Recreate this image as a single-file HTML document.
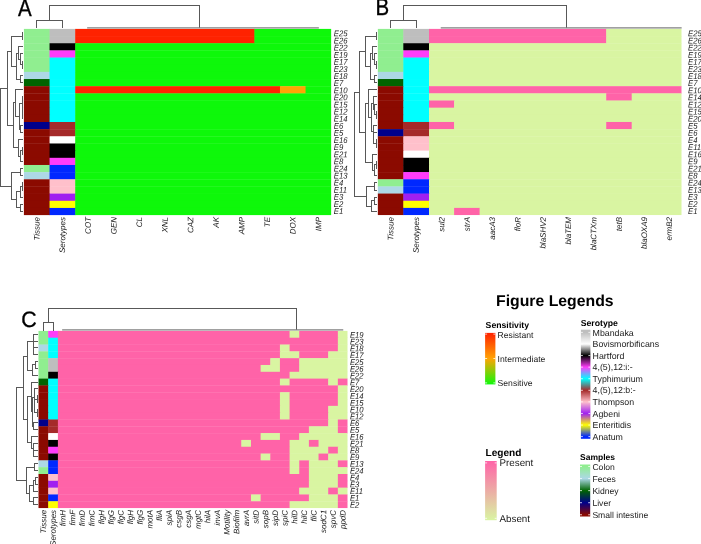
<!DOCTYPE html>
<html><head><meta charset="utf-8"><title>Figure</title>
<style>
html,body{margin:0;padding:0;background:#fff;}
body{width:701px;height:544px;overflow:hidden;position:relative;font-family:"Liberation Sans",sans-serif;}
text{font-family:"Liberation Sans",sans-serif;text-rendering:geometricPrecision;}
</style></head><body>
<svg width="701" height="544" viewBox="0 0 701 544" style="position:absolute;left:0;top:0;font-family:'Liberation Sans',sans-serif;will-change:transform" shape-rendering="geometricPrecision">
<rect x="0" y="0" width="701" height="544" fill="#fff"/>
<rect x="23.90" y="28.90" width="26.15" height="7.51" fill="#90EE90"/>
<rect x="49.55" y="28.90" width="26.15" height="7.51" fill="#BEBEBE"/>
<rect x="75.20" y="28.90" width="179.67" height="7.51" fill="#FF2200"/>
<rect x="254.37" y="28.90" width="76.78" height="7.51" fill="#0EF80A"/>
<rect x="23.90" y="36.06" width="26.15" height="7.51" fill="#90EE90"/>
<rect x="49.55" y="36.06" width="26.15" height="7.51" fill="#BEBEBE"/>
<rect x="75.20" y="36.06" width="179.67" height="7.51" fill="#FF2200"/>
<rect x="254.37" y="36.06" width="76.78" height="7.51" fill="#0EF80A"/>
<rect x="23.90" y="43.22" width="26.15" height="7.51" fill="#90EE90"/>
<rect x="49.55" y="43.22" width="26.15" height="7.51" fill="#000000"/>
<rect x="75.20" y="43.22" width="255.95" height="7.51" fill="#0EF80A"/>
<rect x="23.90" y="50.38" width="26.15" height="7.51" fill="#90EE90"/>
<rect x="49.55" y="50.38" width="26.15" height="7.51" fill="#FF3CFA"/>
<rect x="75.20" y="50.38" width="255.95" height="7.51" fill="#0EF80A"/>
<rect x="23.90" y="57.55" width="26.15" height="7.51" fill="#90EE90"/>
<rect x="49.55" y="57.55" width="26.15" height="7.51" fill="#00FFFF"/>
<rect x="75.20" y="57.55" width="255.95" height="7.51" fill="#0EF80A"/>
<rect x="23.90" y="64.71" width="26.15" height="7.51" fill="#90EE90"/>
<rect x="49.55" y="64.71" width="26.15" height="7.51" fill="#00FFFF"/>
<rect x="75.20" y="64.71" width="255.95" height="7.51" fill="#0EF80A"/>
<rect x="23.90" y="71.87" width="26.15" height="7.51" fill="#ADD8E6"/>
<rect x="49.55" y="71.87" width="26.15" height="7.51" fill="#00FFFF"/>
<rect x="75.20" y="71.87" width="255.95" height="7.51" fill="#0EF80A"/>
<rect x="23.90" y="79.03" width="26.15" height="7.51" fill="#006400"/>
<rect x="49.55" y="79.03" width="26.15" height="7.51" fill="#00FFFF"/>
<rect x="75.20" y="79.03" width="255.95" height="7.51" fill="#0EF80A"/>
<rect x="23.90" y="86.19" width="26.15" height="7.51" fill="#8B0A00"/>
<rect x="49.55" y="86.19" width="26.15" height="7.51" fill="#00FFFF"/>
<rect x="75.20" y="86.19" width="205.26" height="7.51" fill="#FF2200"/>
<rect x="279.96" y="86.19" width="26.10" height="7.51" fill="#FFA404"/>
<rect x="305.56" y="86.19" width="25.59" height="7.51" fill="#0EF80A"/>
<rect x="23.90" y="93.35" width="26.15" height="7.51" fill="#8B0A00"/>
<rect x="49.55" y="93.35" width="26.15" height="7.51" fill="#00FFFF"/>
<rect x="75.20" y="93.35" width="255.95" height="7.51" fill="#0EF80A"/>
<rect x="23.90" y="100.52" width="26.15" height="7.51" fill="#8B0A00"/>
<rect x="49.55" y="100.52" width="26.15" height="7.51" fill="#00FFFF"/>
<rect x="75.20" y="100.52" width="255.95" height="7.51" fill="#0EF80A"/>
<rect x="23.90" y="107.68" width="26.15" height="7.51" fill="#8B0A00"/>
<rect x="49.55" y="107.68" width="26.15" height="7.51" fill="#00FFFF"/>
<rect x="75.20" y="107.68" width="255.95" height="7.51" fill="#0EF80A"/>
<rect x="23.90" y="114.84" width="26.15" height="7.51" fill="#8B0A00"/>
<rect x="49.55" y="114.84" width="26.15" height="7.51" fill="#00FFFF"/>
<rect x="75.20" y="114.84" width="255.95" height="7.51" fill="#0EF80A"/>
<rect x="23.90" y="122.00" width="26.15" height="7.51" fill="#00008B"/>
<rect x="49.55" y="122.00" width="26.15" height="7.51" fill="#A52A2A"/>
<rect x="75.20" y="122.00" width="255.95" height="7.51" fill="#0EF80A"/>
<rect x="23.90" y="129.16" width="26.15" height="7.51" fill="#8B0A00"/>
<rect x="49.55" y="129.16" width="26.15" height="7.51" fill="#A52A2A"/>
<rect x="75.20" y="129.16" width="255.95" height="7.51" fill="#0EF80A"/>
<rect x="23.90" y="136.32" width="26.15" height="7.51" fill="#8B0A00"/>
<rect x="49.55" y="136.32" width="26.15" height="7.51" fill="#FFFFFF"/>
<rect x="75.20" y="136.32" width="255.95" height="7.51" fill="#0EF80A"/>
<rect x="23.90" y="143.48" width="26.15" height="7.51" fill="#8B0A00"/>
<rect x="49.55" y="143.48" width="26.15" height="7.51" fill="#000000"/>
<rect x="75.20" y="143.48" width="255.95" height="7.51" fill="#0EF80A"/>
<rect x="23.90" y="150.65" width="26.15" height="7.51" fill="#8B0A00"/>
<rect x="49.55" y="150.65" width="26.15" height="7.51" fill="#000000"/>
<rect x="75.20" y="150.65" width="255.95" height="7.51" fill="#0EF80A"/>
<rect x="23.90" y="157.81" width="26.15" height="7.51" fill="#8B0A00"/>
<rect x="49.55" y="157.81" width="26.15" height="7.51" fill="#FF3CFA"/>
<rect x="75.20" y="157.81" width="255.95" height="7.51" fill="#0EF80A"/>
<rect x="23.90" y="164.97" width="26.15" height="7.51" fill="#90EE90"/>
<rect x="49.55" y="164.97" width="26.15" height="7.51" fill="#0028FF"/>
<rect x="75.20" y="164.97" width="255.95" height="7.51" fill="#0EF80A"/>
<rect x="23.90" y="172.13" width="26.15" height="7.51" fill="#ADD8E6"/>
<rect x="49.55" y="172.13" width="26.15" height="7.51" fill="#0028FF"/>
<rect x="75.20" y="172.13" width="255.95" height="7.51" fill="#0EF80A"/>
<rect x="23.90" y="179.29" width="26.15" height="7.51" fill="#8B0A00"/>
<rect x="49.55" y="179.29" width="26.15" height="7.51" fill="#FFC0CB"/>
<rect x="75.20" y="179.29" width="255.95" height="7.51" fill="#0EF80A"/>
<rect x="23.90" y="186.45" width="26.15" height="7.51" fill="#8B0A00"/>
<rect x="49.55" y="186.45" width="26.15" height="7.51" fill="#FFC0CB"/>
<rect x="75.20" y="186.45" width="255.95" height="7.51" fill="#0EF80A"/>
<rect x="23.90" y="193.62" width="26.15" height="7.51" fill="#8B0A00"/>
<rect x="49.55" y="193.62" width="26.15" height="7.51" fill="#A020F0"/>
<rect x="75.20" y="193.62" width="255.95" height="7.51" fill="#0EF80A"/>
<rect x="23.90" y="200.78" width="26.15" height="7.51" fill="#8B0A00"/>
<rect x="49.55" y="200.78" width="26.15" height="7.51" fill="#FFFF00"/>
<rect x="75.20" y="200.78" width="255.95" height="7.51" fill="#0EF80A"/>
<rect x="23.90" y="207.94" width="26.15" height="7.16" fill="#8B0A00"/>
<rect x="49.55" y="207.94" width="26.15" height="7.16" fill="#0028FF"/>
<rect x="75.20" y="207.94" width="255.95" height="7.16" fill="#0EF80A"/>
<text x="0" y="0" font-size="8.4" style="font-style:italic" fill="#1a1a1a" transform="translate(333.80 36.30) rotate(0.3) scale(0.92 1)">E25</text>
<text x="0" y="0" font-size="8.4" style="font-style:italic" fill="#1a1a1a" transform="translate(333.80 43.41) rotate(0.3) scale(0.92 1)">E26</text>
<text x="0" y="0" font-size="8.4" style="font-style:italic" fill="#1a1a1a" transform="translate(333.80 50.52) rotate(0.3) scale(0.92 1)">E22</text>
<text x="0" y="0" font-size="8.4" style="font-style:italic" fill="#1a1a1a" transform="translate(333.80 57.63) rotate(0.3) scale(0.92 1)">E19</text>
<text x="0" y="0" font-size="8.4" style="font-style:italic" fill="#1a1a1a" transform="translate(333.80 64.74) rotate(0.3) scale(0.92 1)">E17</text>
<text x="0" y="0" font-size="8.4" style="font-style:italic" fill="#1a1a1a" transform="translate(333.80 71.85) rotate(0.3) scale(0.92 1)">E23</text>
<text x="0" y="0" font-size="8.4" style="font-style:italic" fill="#1a1a1a" transform="translate(333.80 78.96) rotate(0.3) scale(0.92 1)">E18</text>
<text x="0" y="0" font-size="8.4" style="font-style:italic" fill="#1a1a1a" transform="translate(333.80 86.07) rotate(0.3) scale(0.92 1)">E7</text>
<text x="0" y="0" font-size="8.4" style="font-style:italic" fill="#1a1a1a" transform="translate(333.80 93.18) rotate(0.3) scale(0.92 1)">E10</text>
<text x="0" y="0" font-size="8.4" style="font-style:italic" fill="#1a1a1a" transform="translate(333.80 100.29) rotate(0.3) scale(0.92 1)">E20</text>
<text x="0" y="0" font-size="8.4" style="font-style:italic" fill="#1a1a1a" transform="translate(333.80 107.40) rotate(0.3) scale(0.92 1)">E15</text>
<text x="0" y="0" font-size="8.4" style="font-style:italic" fill="#1a1a1a" transform="translate(333.80 114.51) rotate(0.3) scale(0.92 1)">E12</text>
<text x="0" y="0" font-size="8.4" style="font-style:italic" fill="#1a1a1a" transform="translate(333.80 121.62) rotate(0.3) scale(0.92 1)">E14</text>
<text x="0" y="0" font-size="8.4" style="font-style:italic" fill="#1a1a1a" transform="translate(333.80 128.73) rotate(0.3) scale(0.92 1)">E6</text>
<text x="0" y="0" font-size="8.4" style="font-style:italic" fill="#1a1a1a" transform="translate(333.80 135.84) rotate(0.3) scale(0.92 1)">E5</text>
<text x="0" y="0" font-size="8.4" style="font-style:italic" fill="#1a1a1a" transform="translate(333.80 142.95) rotate(0.3) scale(0.92 1)">E16</text>
<text x="0" y="0" font-size="8.4" style="font-style:italic" fill="#1a1a1a" transform="translate(333.80 150.06) rotate(0.3) scale(0.92 1)">E9</text>
<text x="0" y="0" font-size="8.4" style="font-style:italic" fill="#1a1a1a" transform="translate(333.80 157.17) rotate(0.3) scale(0.92 1)">E21</text>
<text x="0" y="0" font-size="8.4" style="font-style:italic" fill="#1a1a1a" transform="translate(333.80 164.28) rotate(0.3) scale(0.92 1)">E8</text>
<text x="0" y="0" font-size="8.4" style="font-style:italic" fill="#1a1a1a" transform="translate(333.80 171.39) rotate(0.3) scale(0.92 1)">E24</text>
<text x="0" y="0" font-size="8.4" style="font-style:italic" fill="#1a1a1a" transform="translate(333.80 178.50) rotate(0.3) scale(0.92 1)">E13</text>
<text x="0" y="0" font-size="8.4" style="font-style:italic" fill="#1a1a1a" transform="translate(333.80 185.61) rotate(0.3) scale(0.92 1)">E4</text>
<text x="0" y="0" font-size="8.4" style="font-style:italic" fill="#1a1a1a" transform="translate(333.80 192.72) rotate(0.3) scale(0.92 1)">E11</text>
<text x="0" y="0" font-size="8.4" style="font-style:italic" fill="#1a1a1a" transform="translate(333.80 199.83) rotate(0.3) scale(0.92 1)">E3</text>
<text x="0" y="0" font-size="8.4" style="font-style:italic" fill="#1a1a1a" transform="translate(333.80 206.94) rotate(0.3) scale(0.92 1)">E2</text>
<text x="0" y="0" font-size="8.4" style="font-style:italic" fill="#1a1a1a" transform="translate(333.80 214.05) rotate(0.3) scale(0.92 1)">E1</text>
<text x="39.60" y="217.00" font-size="8.0" text-anchor="end" style="font-style:italic;" fill="#1a1a1a" transform="rotate(-89.7 39.60 217.00)">Tissue</text>
<text x="65.25" y="217.00" font-size="8.0" text-anchor="end" style="font-style:italic;" fill="#1a1a1a" transform="rotate(-89.7 65.25 217.00)">Serotypes</text>
<text x="90.88" y="217.00" font-size="8.0" text-anchor="end" style="font-style:italic;" fill="#1a1a1a" transform="rotate(-89.7 90.88 217.00)">COT</text>
<text x="116.47" y="217.00" font-size="8.0" text-anchor="end" style="font-style:italic;" fill="#1a1a1a" transform="rotate(-89.7 116.47 217.00)">GEN</text>
<text x="142.07" y="217.00" font-size="8.0" text-anchor="end" style="font-style:italic;" fill="#1a1a1a" transform="rotate(-89.7 142.07 217.00)">CL</text>
<text x="167.66" y="217.00" font-size="8.0" text-anchor="end" style="font-style:italic;" fill="#1a1a1a" transform="rotate(-89.7 167.66 217.00)">XNL</text>
<text x="193.26" y="217.00" font-size="8.0" text-anchor="end" style="font-style:italic;" fill="#1a1a1a" transform="rotate(-89.7 193.26 217.00)">CAZ</text>
<text x="218.85" y="217.00" font-size="8.0" text-anchor="end" style="font-style:italic;" fill="#1a1a1a" transform="rotate(-89.7 218.85 217.00)">AK</text>
<text x="244.45" y="217.00" font-size="8.0" text-anchor="end" style="font-style:italic;" fill="#1a1a1a" transform="rotate(-89.7 244.45 217.00)">AMP</text>
<text x="270.04" y="217.00" font-size="8.0" text-anchor="end" style="font-style:italic;" fill="#1a1a1a" transform="rotate(-89.7 270.04 217.00)">TE</text>
<text x="295.64" y="217.00" font-size="8.0" text-anchor="end" style="font-style:italic;" fill="#1a1a1a" transform="rotate(-89.7 295.64 217.00)">DOX</text>
<text x="321.23" y="217.00" font-size="8.0" text-anchor="end" style="font-style:italic;" fill="#1a1a1a" transform="rotate(-89.7 321.23 217.00)">IMP</text>
<rect x="377.85" y="28.90" width="25.95" height="7.51" fill="#90EE90"/>
<rect x="403.30" y="28.90" width="26.20" height="7.51" fill="#BEBEBE"/>
<rect x="429.00" y="28.90" width="177.70" height="7.51" fill="#FF63A8"/>
<rect x="606.20" y="28.90" width="75.30" height="7.51" fill="#D9F5A2"/>
<rect x="377.85" y="36.06" width="25.95" height="7.51" fill="#90EE90"/>
<rect x="403.30" y="36.06" width="26.20" height="7.51" fill="#BEBEBE"/>
<rect x="429.00" y="36.06" width="177.70" height="7.51" fill="#FF63A8"/>
<rect x="606.20" y="36.06" width="75.30" height="7.51" fill="#D9F5A2"/>
<rect x="377.85" y="43.22" width="25.95" height="7.51" fill="#90EE90"/>
<rect x="403.30" y="43.22" width="26.20" height="7.51" fill="#000000"/>
<rect x="429.00" y="43.22" width="252.50" height="7.51" fill="#D9F5A2"/>
<rect x="377.85" y="50.38" width="25.95" height="7.51" fill="#90EE90"/>
<rect x="403.30" y="50.38" width="26.20" height="7.51" fill="#FF3CFA"/>
<rect x="429.00" y="50.38" width="252.50" height="7.51" fill="#D9F5A2"/>
<rect x="377.85" y="57.54" width="25.95" height="7.51" fill="#90EE90"/>
<rect x="403.30" y="57.54" width="26.20" height="7.51" fill="#00FFFF"/>
<rect x="429.00" y="57.54" width="252.50" height="7.51" fill="#D9F5A2"/>
<rect x="377.85" y="64.70" width="25.95" height="7.51" fill="#90EE90"/>
<rect x="403.30" y="64.70" width="26.20" height="7.51" fill="#00FFFF"/>
<rect x="429.00" y="64.70" width="252.50" height="7.51" fill="#D9F5A2"/>
<rect x="377.85" y="71.86" width="25.95" height="7.51" fill="#ADD8E6"/>
<rect x="403.30" y="71.86" width="26.20" height="7.51" fill="#00FFFF"/>
<rect x="429.00" y="71.86" width="252.50" height="7.51" fill="#D9F5A2"/>
<rect x="377.85" y="79.02" width="25.95" height="7.51" fill="#006400"/>
<rect x="403.30" y="79.02" width="26.20" height="7.51" fill="#00FFFF"/>
<rect x="429.00" y="79.02" width="252.50" height="7.51" fill="#D9F5A2"/>
<rect x="377.85" y="86.18" width="25.95" height="7.51" fill="#8B0A00"/>
<rect x="403.30" y="86.18" width="26.20" height="7.51" fill="#00FFFF"/>
<rect x="429.00" y="86.18" width="252.50" height="7.51" fill="#FF63A8"/>
<rect x="377.85" y="93.34" width="25.95" height="7.51" fill="#8B0A00"/>
<rect x="403.30" y="93.34" width="26.20" height="7.51" fill="#00FFFF"/>
<rect x="429.00" y="93.34" width="177.70" height="7.51" fill="#D9F5A2"/>
<rect x="606.20" y="93.34" width="26.00" height="7.51" fill="#FF63A8"/>
<rect x="631.70" y="93.34" width="49.80" height="7.51" fill="#D9F5A2"/>
<rect x="377.85" y="100.50" width="25.95" height="7.51" fill="#8B0A00"/>
<rect x="403.30" y="100.50" width="26.20" height="7.51" fill="#00FFFF"/>
<rect x="429.00" y="100.50" width="25.60" height="7.51" fill="#FF63A8"/>
<rect x="454.10" y="100.50" width="227.40" height="7.51" fill="#D9F5A2"/>
<rect x="377.85" y="107.66" width="25.95" height="7.51" fill="#8B0A00"/>
<rect x="403.30" y="107.66" width="26.20" height="7.51" fill="#00FFFF"/>
<rect x="429.00" y="107.66" width="252.50" height="7.51" fill="#D9F5A2"/>
<rect x="377.85" y="114.82" width="25.95" height="7.51" fill="#8B0A00"/>
<rect x="403.30" y="114.82" width="26.20" height="7.51" fill="#00FFFF"/>
<rect x="429.00" y="114.82" width="252.50" height="7.51" fill="#D9F5A2"/>
<rect x="377.85" y="121.97" width="25.95" height="7.51" fill="#8B0A00"/>
<rect x="403.30" y="121.97" width="26.20" height="7.51" fill="#A52A2A"/>
<rect x="429.00" y="121.97" width="25.60" height="7.51" fill="#FF63A8"/>
<rect x="454.10" y="121.97" width="152.60" height="7.51" fill="#D9F5A2"/>
<rect x="606.20" y="121.97" width="26.00" height="7.51" fill="#FF63A8"/>
<rect x="631.70" y="121.97" width="49.80" height="7.51" fill="#D9F5A2"/>
<rect x="377.85" y="129.13" width="25.95" height="7.51" fill="#00008B"/>
<rect x="403.30" y="129.13" width="26.20" height="7.51" fill="#A52A2A"/>
<rect x="429.00" y="129.13" width="252.50" height="7.51" fill="#D9F5A2"/>
<rect x="377.85" y="136.29" width="25.95" height="7.51" fill="#8B0A00"/>
<rect x="403.30" y="136.29" width="26.20" height="7.51" fill="#FFC0CB"/>
<rect x="429.00" y="136.29" width="252.50" height="7.51" fill="#D9F5A2"/>
<rect x="377.85" y="143.45" width="25.95" height="7.51" fill="#8B0A00"/>
<rect x="403.30" y="143.45" width="26.20" height="7.51" fill="#FFC0CB"/>
<rect x="429.00" y="143.45" width="252.50" height="7.51" fill="#D9F5A2"/>
<rect x="377.85" y="150.61" width="25.95" height="7.51" fill="#8B0A00"/>
<rect x="403.30" y="150.61" width="26.20" height="7.51" fill="#FFFFFF"/>
<rect x="429.00" y="150.61" width="252.50" height="7.51" fill="#D9F5A2"/>
<rect x="377.85" y="157.77" width="25.95" height="7.51" fill="#8B0A00"/>
<rect x="403.30" y="157.77" width="26.20" height="7.51" fill="#000000"/>
<rect x="429.00" y="157.77" width="252.50" height="7.51" fill="#D9F5A2"/>
<rect x="377.85" y="164.93" width="25.95" height="7.51" fill="#8B0A00"/>
<rect x="403.30" y="164.93" width="26.20" height="7.51" fill="#000000"/>
<rect x="429.00" y="164.93" width="252.50" height="7.51" fill="#D9F5A2"/>
<rect x="377.85" y="172.09" width="25.95" height="7.51" fill="#8B0A00"/>
<rect x="403.30" y="172.09" width="26.20" height="7.51" fill="#FF3CFA"/>
<rect x="429.00" y="172.09" width="252.50" height="7.51" fill="#D9F5A2"/>
<rect x="377.85" y="179.25" width="25.95" height="7.51" fill="#90EE90"/>
<rect x="403.30" y="179.25" width="26.20" height="7.51" fill="#0028FF"/>
<rect x="429.00" y="179.25" width="252.50" height="7.51" fill="#D9F5A2"/>
<rect x="377.85" y="186.41" width="25.95" height="7.51" fill="#ADD8E6"/>
<rect x="403.30" y="186.41" width="26.20" height="7.51" fill="#0028FF"/>
<rect x="429.00" y="186.41" width="252.50" height="7.51" fill="#D9F5A2"/>
<rect x="377.85" y="193.57" width="25.95" height="7.51" fill="#8B0A00"/>
<rect x="403.30" y="193.57" width="26.20" height="7.51" fill="#A020F0"/>
<rect x="429.00" y="193.57" width="252.50" height="7.51" fill="#D9F5A2"/>
<rect x="377.85" y="200.73" width="25.95" height="7.51" fill="#8B0A00"/>
<rect x="403.30" y="200.73" width="26.20" height="7.51" fill="#FFFF00"/>
<rect x="429.00" y="200.73" width="252.50" height="7.51" fill="#D9F5A2"/>
<rect x="377.85" y="207.89" width="25.95" height="7.16" fill="#8B0A00"/>
<rect x="403.30" y="207.89" width="26.20" height="7.16" fill="#0028FF"/>
<rect x="429.00" y="207.89" width="25.60" height="7.16" fill="#D9F5A2"/>
<rect x="454.10" y="207.89" width="26.00" height="7.16" fill="#FF63A8"/>
<rect x="479.60" y="207.89" width="201.90" height="7.16" fill="#D9F5A2"/>
<text x="0" y="0" font-size="8.4" style="font-style:italic" fill="#1a1a1a" transform="translate(688.00 36.30) rotate(0.3) scale(0.92 1)">E25</text>
<text x="0" y="0" font-size="8.4" style="font-style:italic" fill="#1a1a1a" transform="translate(688.00 43.41) rotate(0.3) scale(0.92 1)">E26</text>
<text x="0" y="0" font-size="8.4" style="font-style:italic" fill="#1a1a1a" transform="translate(688.00 50.52) rotate(0.3) scale(0.92 1)">E22</text>
<text x="0" y="0" font-size="8.4" style="font-style:italic" fill="#1a1a1a" transform="translate(688.00 57.63) rotate(0.3) scale(0.92 1)">E19</text>
<text x="0" y="0" font-size="8.4" style="font-style:italic" fill="#1a1a1a" transform="translate(688.00 64.74) rotate(0.3) scale(0.92 1)">E17</text>
<text x="0" y="0" font-size="8.4" style="font-style:italic" fill="#1a1a1a" transform="translate(688.00 71.85) rotate(0.3) scale(0.92 1)">E23</text>
<text x="0" y="0" font-size="8.4" style="font-style:italic" fill="#1a1a1a" transform="translate(688.00 78.96) rotate(0.3) scale(0.92 1)">E18</text>
<text x="0" y="0" font-size="8.4" style="font-style:italic" fill="#1a1a1a" transform="translate(688.00 86.07) rotate(0.3) scale(0.92 1)">E7</text>
<text x="0" y="0" font-size="8.4" style="font-style:italic" fill="#1a1a1a" transform="translate(688.00 93.18) rotate(0.3) scale(0.92 1)">E10</text>
<text x="0" y="0" font-size="8.4" style="font-style:italic" fill="#1a1a1a" transform="translate(688.00 100.29) rotate(0.3) scale(0.92 1)">E14</text>
<text x="0" y="0" font-size="8.4" style="font-style:italic" fill="#1a1a1a" transform="translate(688.00 107.40) rotate(0.3) scale(0.92 1)">E12</text>
<text x="0" y="0" font-size="8.4" style="font-style:italic" fill="#1a1a1a" transform="translate(688.00 114.51) rotate(0.3) scale(0.92 1)">E15</text>
<text x="0" y="0" font-size="8.4" style="font-style:italic" fill="#1a1a1a" transform="translate(688.00 121.62) rotate(0.3) scale(0.92 1)">E20</text>
<text x="0" y="0" font-size="8.4" style="font-style:italic" fill="#1a1a1a" transform="translate(688.00 128.73) rotate(0.3) scale(0.92 1)">E5</text>
<text x="0" y="0" font-size="8.4" style="font-style:italic" fill="#1a1a1a" transform="translate(688.00 135.84) rotate(0.3) scale(0.92 1)">E6</text>
<text x="0" y="0" font-size="8.4" style="font-style:italic" fill="#1a1a1a" transform="translate(688.00 142.95) rotate(0.3) scale(0.92 1)">E4</text>
<text x="0" y="0" font-size="8.4" style="font-style:italic" fill="#1a1a1a" transform="translate(688.00 150.06) rotate(0.3) scale(0.92 1)">E11</text>
<text x="0" y="0" font-size="8.4" style="font-style:italic" fill="#1a1a1a" transform="translate(688.00 157.17) rotate(0.3) scale(0.92 1)">E16</text>
<text x="0" y="0" font-size="8.4" style="font-style:italic" fill="#1a1a1a" transform="translate(688.00 164.28) rotate(0.3) scale(0.92 1)">E9</text>
<text x="0" y="0" font-size="8.4" style="font-style:italic" fill="#1a1a1a" transform="translate(688.00 171.39) rotate(0.3) scale(0.92 1)">E21</text>
<text x="0" y="0" font-size="8.4" style="font-style:italic" fill="#1a1a1a" transform="translate(688.00 178.50) rotate(0.3) scale(0.92 1)">E8</text>
<text x="0" y="0" font-size="8.4" style="font-style:italic" fill="#1a1a1a" transform="translate(688.00 185.61) rotate(0.3) scale(0.92 1)">E24</text>
<text x="0" y="0" font-size="8.4" style="font-style:italic" fill="#1a1a1a" transform="translate(688.00 192.72) rotate(0.3) scale(0.92 1)">E13</text>
<text x="0" y="0" font-size="8.4" style="font-style:italic" fill="#1a1a1a" transform="translate(688.00 199.83) rotate(0.3) scale(0.92 1)">E3</text>
<text x="0" y="0" font-size="8.4" style="font-style:italic" fill="#1a1a1a" transform="translate(688.00 206.94) rotate(0.3) scale(0.92 1)">E2</text>
<text x="0" y="0" font-size="8.4" style="font-style:italic" fill="#1a1a1a" transform="translate(688.00 214.05) rotate(0.3) scale(0.92 1)">E1</text>
<text x="393.46" y="217.00" font-size="8.0" text-anchor="end" style="font-style:italic;" fill="#1a1a1a" transform="rotate(-89.7 393.46 217.00)">Tissue</text>
<text x="419.03" y="217.00" font-size="8.0" text-anchor="end" style="font-style:italic;" fill="#1a1a1a" transform="rotate(-89.7 419.03 217.00)">Serotypes</text>
<text x="444.43" y="217.00" font-size="8.0" text-anchor="end" style="font-style:italic;" fill="#1a1a1a" transform="rotate(-89.7 444.43 217.00)">sul2</text>
<text x="469.73" y="217.00" font-size="8.0" text-anchor="end" style="font-style:italic;" fill="#1a1a1a" transform="rotate(-89.7 469.73 217.00)">strA</text>
<text x="495.13" y="217.00" font-size="8.0" text-anchor="end" style="font-style:italic;" fill="#1a1a1a" transform="rotate(-89.7 495.13 217.00)">aacA3</text>
<text x="520.43" y="217.00" font-size="8.0" text-anchor="end" style="font-style:italic;" fill="#1a1a1a" transform="rotate(-89.7 520.43 217.00)">floR</text>
<text x="545.78" y="217.00" font-size="8.0" text-anchor="end" style="font-style:italic;" fill="#1a1a1a" transform="rotate(-89.7 545.78 217.00)">blaSHV2</text>
<text x="571.13" y="217.00" font-size="8.0" text-anchor="end" style="font-style:italic;" fill="#1a1a1a" transform="rotate(-89.7 571.13 217.00)">blaTEM</text>
<text x="596.43" y="217.00" font-size="8.0" text-anchor="end" style="font-style:italic;" fill="#1a1a1a" transform="rotate(-89.7 596.43 217.00)">blaCTXm</text>
<text x="621.83" y="217.00" font-size="8.0" text-anchor="end" style="font-style:italic;" fill="#1a1a1a" transform="rotate(-89.7 621.83 217.00)">tetB</text>
<text x="647.03" y="217.00" font-size="8.0" text-anchor="end" style="font-style:italic;" fill="#1a1a1a" transform="rotate(-89.7 647.03 217.00)">blaOXA9</text>
<text x="671.93" y="217.00" font-size="8.0" text-anchor="end" style="font-style:italic;" fill="#1a1a1a" transform="rotate(-89.7 671.93 217.00)">ermB2</text>
<rect x="38.50" y="330.90" width="10.20" height="7.16" fill="#90EE90"/>
<rect x="48.20" y="330.90" width="10.20" height="7.16" fill="#FF3CFA"/>
<rect x="57.90" y="330.90" width="232.18" height="7.16" fill="#FF63A8"/>
<rect x="289.58" y="330.90" width="10.15" height="7.16" fill="#D9F5A2"/>
<rect x="299.23" y="330.90" width="39.11" height="7.16" fill="#FF63A8"/>
<rect x="337.85" y="330.90" width="9.65" height="7.16" fill="#D9F5A2"/>
<rect x="38.50" y="337.71" width="10.20" height="7.16" fill="#90EE90"/>
<rect x="48.20" y="337.71" width="10.20" height="7.16" fill="#00FFFF"/>
<rect x="57.90" y="337.71" width="280.45" height="7.16" fill="#FF63A8"/>
<rect x="337.85" y="337.71" width="9.65" height="7.16" fill="#D9F5A2"/>
<rect x="38.50" y="344.53" width="10.20" height="7.16" fill="#ADD8E6"/>
<rect x="48.20" y="344.53" width="10.20" height="7.16" fill="#00FFFF"/>
<rect x="57.90" y="344.53" width="222.53" height="7.16" fill="#FF63A8"/>
<rect x="279.93" y="344.53" width="10.15" height="7.16" fill="#D9F5A2"/>
<rect x="289.58" y="344.53" width="48.77" height="7.16" fill="#FF63A8"/>
<rect x="337.85" y="344.53" width="9.65" height="7.16" fill="#D9F5A2"/>
<rect x="38.50" y="351.34" width="10.20" height="7.16" fill="#90EE90"/>
<rect x="48.20" y="351.34" width="10.20" height="7.16" fill="#00FFFF"/>
<rect x="57.90" y="351.34" width="222.53" height="7.16" fill="#FF63A8"/>
<rect x="279.93" y="351.34" width="19.81" height="7.16" fill="#D9F5A2"/>
<rect x="299.23" y="351.34" width="29.46" height="7.16" fill="#FF63A8"/>
<rect x="328.19" y="351.34" width="19.31" height="7.16" fill="#D9F5A2"/>
<rect x="38.50" y="358.16" width="10.20" height="7.16" fill="#90EE90"/>
<rect x="48.20" y="358.16" width="10.20" height="7.16" fill="#BEBEBE"/>
<rect x="57.90" y="358.16" width="212.87" height="7.16" fill="#FF63A8"/>
<rect x="270.27" y="358.16" width="10.15" height="7.16" fill="#D9F5A2"/>
<rect x="279.93" y="358.16" width="19.81" height="7.16" fill="#FF63A8"/>
<rect x="299.23" y="358.16" width="48.27" height="7.16" fill="#D9F5A2"/>
<rect x="38.50" y="364.97" width="10.20" height="7.16" fill="#90EE90"/>
<rect x="48.20" y="364.97" width="10.20" height="7.16" fill="#BEBEBE"/>
<rect x="57.90" y="364.97" width="203.22" height="7.16" fill="#FF63A8"/>
<rect x="260.62" y="364.97" width="19.81" height="7.16" fill="#D9F5A2"/>
<rect x="279.93" y="364.97" width="19.81" height="7.16" fill="#FF63A8"/>
<rect x="299.23" y="364.97" width="48.27" height="7.16" fill="#D9F5A2"/>
<rect x="38.50" y="371.79" width="10.20" height="7.16" fill="#90EE90"/>
<rect x="48.20" y="371.79" width="10.20" height="7.16" fill="#000000"/>
<rect x="57.90" y="371.79" width="232.18" height="7.16" fill="#FF63A8"/>
<rect x="289.58" y="371.79" width="57.92" height="7.16" fill="#D9F5A2"/>
<rect x="38.50" y="378.60" width="10.20" height="7.16" fill="#006400"/>
<rect x="48.20" y="378.60" width="10.20" height="7.16" fill="#00FFFF"/>
<rect x="57.90" y="378.60" width="222.53" height="7.16" fill="#FF63A8"/>
<rect x="279.93" y="378.60" width="10.15" height="7.16" fill="#D9F5A2"/>
<rect x="289.58" y="378.60" width="39.11" height="7.16" fill="#FF63A8"/>
<rect x="328.19" y="378.60" width="10.15" height="7.16" fill="#D9F5A2"/>
<rect x="337.85" y="378.60" width="9.65" height="7.16" fill="#FF63A8"/>
<rect x="38.50" y="385.41" width="10.20" height="7.16" fill="#8B0A00"/>
<rect x="48.20" y="385.41" width="10.20" height="7.16" fill="#00FFFF"/>
<rect x="57.90" y="385.41" width="280.45" height="7.16" fill="#FF63A8"/>
<rect x="337.85" y="385.41" width="9.65" height="7.16" fill="#D9F5A2"/>
<rect x="38.50" y="392.23" width="10.20" height="7.16" fill="#8B0A00"/>
<rect x="48.20" y="392.23" width="10.20" height="7.16" fill="#00FFFF"/>
<rect x="57.90" y="392.23" width="222.53" height="7.16" fill="#FF63A8"/>
<rect x="279.93" y="392.23" width="10.15" height="7.16" fill="#D9F5A2"/>
<rect x="289.58" y="392.23" width="48.77" height="7.16" fill="#FF63A8"/>
<rect x="337.85" y="392.23" width="9.65" height="7.16" fill="#D9F5A2"/>
<rect x="38.50" y="399.04" width="10.20" height="7.16" fill="#8B0A00"/>
<rect x="48.20" y="399.04" width="10.20" height="7.16" fill="#00FFFF"/>
<rect x="57.90" y="399.04" width="222.53" height="7.16" fill="#FF63A8"/>
<rect x="279.93" y="399.04" width="10.15" height="7.16" fill="#D9F5A2"/>
<rect x="289.58" y="399.04" width="48.77" height="7.16" fill="#FF63A8"/>
<rect x="337.85" y="399.04" width="9.65" height="7.16" fill="#D9F5A2"/>
<rect x="38.50" y="405.86" width="10.20" height="7.16" fill="#8B0A00"/>
<rect x="48.20" y="405.86" width="10.20" height="7.16" fill="#00FFFF"/>
<rect x="57.90" y="405.86" width="222.53" height="7.16" fill="#FF63A8"/>
<rect x="279.93" y="405.86" width="10.15" height="7.16" fill="#D9F5A2"/>
<rect x="289.58" y="405.86" width="39.11" height="7.16" fill="#FF63A8"/>
<rect x="328.19" y="405.86" width="19.31" height="7.16" fill="#D9F5A2"/>
<rect x="38.50" y="412.67" width="10.20" height="7.16" fill="#8B0A00"/>
<rect x="48.20" y="412.67" width="10.20" height="7.16" fill="#00FFFF"/>
<rect x="57.90" y="412.67" width="222.53" height="7.16" fill="#FF63A8"/>
<rect x="279.93" y="412.67" width="10.15" height="7.16" fill="#D9F5A2"/>
<rect x="289.58" y="412.67" width="39.11" height="7.16" fill="#FF63A8"/>
<rect x="328.19" y="412.67" width="19.31" height="7.16" fill="#D9F5A2"/>
<rect x="38.50" y="419.49" width="10.20" height="7.16" fill="#00008B"/>
<rect x="48.20" y="419.49" width="10.20" height="7.16" fill="#A52A2A"/>
<rect x="57.90" y="419.49" width="270.79" height="7.16" fill="#FF63A8"/>
<rect x="328.19" y="419.49" width="10.15" height="7.16" fill="#D9F5A2"/>
<rect x="337.85" y="419.49" width="9.65" height="7.16" fill="#FF63A8"/>
<rect x="38.50" y="426.30" width="10.20" height="7.16" fill="#8B0A00"/>
<rect x="48.20" y="426.30" width="10.20" height="7.16" fill="#A52A2A"/>
<rect x="57.90" y="426.30" width="251.49" height="7.16" fill="#FF63A8"/>
<rect x="308.89" y="426.30" width="29.46" height="7.16" fill="#D9F5A2"/>
<rect x="337.85" y="426.30" width="9.65" height="7.16" fill="#FF63A8"/>
<rect x="38.50" y="433.11" width="10.20" height="7.16" fill="#8B0A00"/>
<rect x="48.20" y="433.11" width="10.20" height="7.16" fill="#FFFFFF"/>
<rect x="57.90" y="433.11" width="203.22" height="7.16" fill="#FF63A8"/>
<rect x="260.62" y="433.11" width="19.81" height="7.16" fill="#D9F5A2"/>
<rect x="279.93" y="433.11" width="19.81" height="7.16" fill="#FF63A8"/>
<rect x="299.23" y="433.11" width="48.27" height="7.16" fill="#D9F5A2"/>
<rect x="38.50" y="439.93" width="10.20" height="7.16" fill="#8B0A00"/>
<rect x="48.20" y="439.93" width="10.20" height="7.16" fill="#000000"/>
<rect x="57.90" y="439.93" width="183.91" height="7.16" fill="#FF63A8"/>
<rect x="241.31" y="439.93" width="10.15" height="7.16" fill="#D9F5A2"/>
<rect x="250.97" y="439.93" width="39.11" height="7.16" fill="#FF63A8"/>
<rect x="289.58" y="439.93" width="19.81" height="7.16" fill="#D9F5A2"/>
<rect x="308.89" y="439.93" width="10.15" height="7.16" fill="#FF63A8"/>
<rect x="318.54" y="439.93" width="28.96" height="7.16" fill="#D9F5A2"/>
<rect x="38.50" y="446.74" width="10.20" height="7.16" fill="#8B0A00"/>
<rect x="48.20" y="446.74" width="10.20" height="7.16" fill="#FF3CFA"/>
<rect x="57.90" y="446.74" width="232.18" height="7.16" fill="#FF63A8"/>
<rect x="289.58" y="446.74" width="39.11" height="7.16" fill="#D9F5A2"/>
<rect x="328.19" y="446.74" width="10.15" height="7.16" fill="#FF63A8"/>
<rect x="337.85" y="446.74" width="9.65" height="7.16" fill="#D9F5A2"/>
<rect x="38.50" y="453.56" width="10.20" height="7.16" fill="#8B0A00"/>
<rect x="48.20" y="453.56" width="10.20" height="7.16" fill="#000000"/>
<rect x="57.90" y="453.56" width="203.22" height="7.16" fill="#FF63A8"/>
<rect x="260.62" y="453.56" width="10.15" height="7.16" fill="#D9F5A2"/>
<rect x="270.27" y="453.56" width="19.81" height="7.16" fill="#FF63A8"/>
<rect x="289.58" y="453.56" width="29.46" height="7.16" fill="#D9F5A2"/>
<rect x="318.54" y="453.56" width="10.15" height="7.16" fill="#FF63A8"/>
<rect x="328.19" y="453.56" width="19.31" height="7.16" fill="#D9F5A2"/>
<rect x="38.50" y="460.37" width="10.20" height="7.16" fill="#ADD8E6"/>
<rect x="48.20" y="460.37" width="10.20" height="7.16" fill="#0028FF"/>
<rect x="57.90" y="460.37" width="232.18" height="7.16" fill="#FF63A8"/>
<rect x="289.58" y="460.37" width="10.15" height="7.16" fill="#D9F5A2"/>
<rect x="299.23" y="460.37" width="10.15" height="7.16" fill="#FF63A8"/>
<rect x="308.89" y="460.37" width="29.46" height="7.16" fill="#D9F5A2"/>
<rect x="337.85" y="460.37" width="9.65" height="7.16" fill="#FF63A8"/>
<rect x="38.50" y="467.18" width="10.20" height="7.16" fill="#90EE90"/>
<rect x="48.20" y="467.18" width="10.20" height="7.16" fill="#0028FF"/>
<rect x="57.90" y="467.18" width="232.18" height="7.16" fill="#FF63A8"/>
<rect x="289.58" y="467.18" width="10.15" height="7.16" fill="#D9F5A2"/>
<rect x="299.23" y="467.18" width="10.15" height="7.16" fill="#FF63A8"/>
<rect x="308.89" y="467.18" width="38.61" height="7.16" fill="#D9F5A2"/>
<rect x="38.50" y="474.00" width="10.20" height="7.16" fill="#8B0A00"/>
<rect x="48.20" y="474.00" width="10.20" height="7.16" fill="#FFC0CB"/>
<rect x="57.90" y="474.00" width="251.49" height="7.16" fill="#FF63A8"/>
<rect x="308.89" y="474.00" width="29.46" height="7.16" fill="#D9F5A2"/>
<rect x="337.85" y="474.00" width="9.65" height="7.16" fill="#FF63A8"/>
<rect x="38.50" y="480.81" width="10.20" height="7.16" fill="#8B0A00"/>
<rect x="48.20" y="480.81" width="10.20" height="7.16" fill="#A020F0"/>
<rect x="57.90" y="480.81" width="251.49" height="7.16" fill="#FF63A8"/>
<rect x="308.89" y="480.81" width="29.46" height="7.16" fill="#D9F5A2"/>
<rect x="337.85" y="480.81" width="9.65" height="7.16" fill="#FF63A8"/>
<rect x="38.50" y="487.63" width="10.20" height="7.16" fill="#8B0A00"/>
<rect x="48.20" y="487.63" width="10.20" height="7.16" fill="#FFC0CB"/>
<rect x="57.90" y="487.63" width="241.83" height="7.16" fill="#FF63A8"/>
<rect x="299.23" y="487.63" width="29.46" height="7.16" fill="#D9F5A2"/>
<rect x="328.19" y="487.63" width="10.15" height="7.16" fill="#FF63A8"/>
<rect x="337.85" y="487.63" width="9.65" height="7.16" fill="#D9F5A2"/>
<rect x="38.50" y="494.44" width="10.20" height="7.16" fill="#8B0A00"/>
<rect x="48.20" y="494.44" width="10.20" height="7.16" fill="#0028FF"/>
<rect x="57.90" y="494.44" width="193.57" height="7.16" fill="#FF63A8"/>
<rect x="250.97" y="494.44" width="10.15" height="7.16" fill="#D9F5A2"/>
<rect x="260.62" y="494.44" width="48.77" height="7.16" fill="#FF63A8"/>
<rect x="308.89" y="494.44" width="29.46" height="7.16" fill="#D9F5A2"/>
<rect x="337.85" y="494.44" width="9.65" height="7.16" fill="#FF63A8"/>
<rect x="38.50" y="501.26" width="10.20" height="6.81" fill="#8B0A00"/>
<rect x="48.20" y="501.26" width="10.20" height="6.81" fill="#FFFF00"/>
<rect x="57.90" y="501.26" width="232.18" height="6.81" fill="#FF63A8"/>
<rect x="289.58" y="501.26" width="48.77" height="6.81" fill="#D9F5A2"/>
<rect x="337.85" y="501.26" width="9.65" height="6.81" fill="#FF63A8"/>
<text x="0" y="0" font-size="8.3" style="font-style:italic" fill="#1a1a1a" transform="translate(350.00 337.70) rotate(0.3) scale(0.92 1)">E19</text>
<text x="0" y="0" font-size="8.3" style="font-style:italic" fill="#1a1a1a" transform="translate(350.00 344.50) rotate(0.3) scale(0.92 1)">E23</text>
<text x="0" y="0" font-size="8.3" style="font-style:italic" fill="#1a1a1a" transform="translate(350.00 351.29) rotate(0.3) scale(0.92 1)">E18</text>
<text x="0" y="0" font-size="8.3" style="font-style:italic" fill="#1a1a1a" transform="translate(350.00 358.09) rotate(0.3) scale(0.92 1)">E17</text>
<text x="0" y="0" font-size="8.3" style="font-style:italic" fill="#1a1a1a" transform="translate(350.00 364.88) rotate(0.3) scale(0.92 1)">E25</text>
<text x="0" y="0" font-size="8.3" style="font-style:italic" fill="#1a1a1a" transform="translate(350.00 371.68) rotate(0.3) scale(0.92 1)">E26</text>
<text x="0" y="0" font-size="8.3" style="font-style:italic" fill="#1a1a1a" transform="translate(350.00 378.48) rotate(0.3) scale(0.92 1)">E22</text>
<text x="0" y="0" font-size="8.3" style="font-style:italic" fill="#1a1a1a" transform="translate(350.00 385.27) rotate(0.3) scale(0.92 1)">E7</text>
<text x="0" y="0" font-size="8.3" style="font-style:italic" fill="#1a1a1a" transform="translate(350.00 392.07) rotate(0.3) scale(0.92 1)">E20</text>
<text x="0" y="0" font-size="8.3" style="font-style:italic" fill="#1a1a1a" transform="translate(350.00 398.86) rotate(0.3) scale(0.92 1)">E14</text>
<text x="0" y="0" font-size="8.3" style="font-style:italic" fill="#1a1a1a" transform="translate(350.00 405.66) rotate(0.3) scale(0.92 1)">E15</text>
<text x="0" y="0" font-size="8.3" style="font-style:italic" fill="#1a1a1a" transform="translate(350.00 412.46) rotate(0.3) scale(0.92 1)">E10</text>
<text x="0" y="0" font-size="8.3" style="font-style:italic" fill="#1a1a1a" transform="translate(350.00 419.25) rotate(0.3) scale(0.92 1)">E12</text>
<text x="0" y="0" font-size="8.3" style="font-style:italic" fill="#1a1a1a" transform="translate(350.00 426.05) rotate(0.3) scale(0.92 1)">E6</text>
<text x="0" y="0" font-size="8.3" style="font-style:italic" fill="#1a1a1a" transform="translate(350.00 432.84) rotate(0.3) scale(0.92 1)">E5</text>
<text x="0" y="0" font-size="8.3" style="font-style:italic" fill="#1a1a1a" transform="translate(350.00 439.64) rotate(0.3) scale(0.92 1)">E16</text>
<text x="0" y="0" font-size="8.3" style="font-style:italic" fill="#1a1a1a" transform="translate(350.00 446.44) rotate(0.3) scale(0.92 1)">E21</text>
<text x="0" y="0" font-size="8.3" style="font-style:italic" fill="#1a1a1a" transform="translate(350.00 453.23) rotate(0.3) scale(0.92 1)">E8</text>
<text x="0" y="0" font-size="8.3" style="font-style:italic" fill="#1a1a1a" transform="translate(350.00 460.03) rotate(0.3) scale(0.92 1)">E9</text>
<text x="0" y="0" font-size="8.3" style="font-style:italic" fill="#1a1a1a" transform="translate(350.00 466.82) rotate(0.3) scale(0.92 1)">E13</text>
<text x="0" y="0" font-size="8.3" style="font-style:italic" fill="#1a1a1a" transform="translate(350.00 473.62) rotate(0.3) scale(0.92 1)">E24</text>
<text x="0" y="0" font-size="8.3" style="font-style:italic" fill="#1a1a1a" transform="translate(350.00 480.42) rotate(0.3) scale(0.92 1)">E4</text>
<text x="0" y="0" font-size="8.3" style="font-style:italic" fill="#1a1a1a" transform="translate(350.00 487.21) rotate(0.3) scale(0.92 1)">E3</text>
<text x="0" y="0" font-size="8.3" style="font-style:italic" fill="#1a1a1a" transform="translate(350.00 494.01) rotate(0.3) scale(0.92 1)">E11</text>
<text x="0" y="0" font-size="8.3" style="font-style:italic" fill="#1a1a1a" transform="translate(350.00 500.80) rotate(0.3) scale(0.92 1)">E1</text>
<text x="0" y="0" font-size="8.3" style="font-style:italic" fill="#1a1a1a" transform="translate(350.00 507.60) rotate(0.3) scale(0.92 1)">E2</text>
<text x="46.23" y="509.90" font-size="8.0" text-anchor="end" style="font-style:italic;" fill="#1a1a1a" transform="rotate(-89.7 46.23 509.90)">Tissue</text>
<text x="55.93" y="509.90" font-size="8.0" text-anchor="end" style="font-style:italic;" fill="#1a1a1a" transform="rotate(-89.7 55.93 509.90)">Serotypes</text>
<text x="65.61" y="509.90" font-size="8.0" text-anchor="end" style="font-style:italic;" fill="#1a1a1a" transform="rotate(-89.7 65.61 509.90)">fimH</text>
<text x="75.26" y="509.90" font-size="8.0" text-anchor="end" style="font-style:italic;" fill="#1a1a1a" transform="rotate(-89.7 75.26 509.90)">fimF</text>
<text x="84.91" y="509.90" font-size="8.0" text-anchor="end" style="font-style:italic;" fill="#1a1a1a" transform="rotate(-89.7 84.91 509.90)">fimD</text>
<text x="94.57" y="509.90" font-size="8.0" text-anchor="end" style="font-style:italic;" fill="#1a1a1a" transform="rotate(-89.7 94.57 509.90)">fimC</text>
<text x="104.22" y="509.90" font-size="8.0" text-anchor="end" style="font-style:italic;" fill="#1a1a1a" transform="rotate(-89.7 104.22 509.90)">flgH</text>
<text x="113.87" y="509.90" font-size="8.0" text-anchor="end" style="font-style:italic;" fill="#1a1a1a" transform="rotate(-89.7 113.87 509.90)">flgG</text>
<text x="123.53" y="509.90" font-size="8.0" text-anchor="end" style="font-style:italic;" fill="#1a1a1a" transform="rotate(-89.7 123.53 509.90)">flgC</text>
<text x="133.18" y="509.90" font-size="8.0" text-anchor="end" style="font-style:italic;" fill="#1a1a1a" transform="rotate(-89.7 133.18 509.90)">flgH</text>
<text x="142.83" y="509.90" font-size="8.0" text-anchor="end" style="font-style:italic;" fill="#1a1a1a" transform="rotate(-89.7 142.83 509.90)">flgG</text>
<text x="152.49" y="509.90" font-size="8.0" text-anchor="end" style="font-style:italic;" fill="#1a1a1a" transform="rotate(-89.7 152.49 509.90)">motA</text>
<text x="162.14" y="509.90" font-size="8.0" text-anchor="end" style="font-style:italic;" fill="#1a1a1a" transform="rotate(-89.7 162.14 509.90)">fliA</text>
<text x="171.79" y="509.90" font-size="8.0" text-anchor="end" style="font-style:italic;" fill="#1a1a1a" transform="rotate(-89.7 171.79 509.90)">spiA</text>
<text x="181.45" y="509.90" font-size="8.0" text-anchor="end" style="font-style:italic;" fill="#1a1a1a" transform="rotate(-89.7 181.45 509.90)">csgB</text>
<text x="191.10" y="509.90" font-size="8.0" text-anchor="end" style="font-style:italic;" fill="#1a1a1a" transform="rotate(-89.7 191.10 509.90)">csgA</text>
<text x="200.75" y="509.90" font-size="8.0" text-anchor="end" style="font-style:italic;" fill="#1a1a1a" transform="rotate(-89.7 200.75 509.90)">mgtC</text>
<text x="210.41" y="509.90" font-size="8.0" text-anchor="end" style="font-style:italic;" fill="#1a1a1a" transform="rotate(-89.7 210.41 509.90)">hilA</text>
<text x="220.06" y="509.90" font-size="8.0" text-anchor="end" style="font-style:italic;" fill="#1a1a1a" transform="rotate(-89.7 220.06 509.90)">invA</text>
<text x="229.71" y="509.90" font-size="8.0" text-anchor="end" style="font-style:italic;" fill="#1a1a1a" transform="rotate(-89.7 229.71 509.90)">Motility</text>
<text x="239.37" y="509.90" font-size="8.0" text-anchor="end" style="font-style:italic;" fill="#1a1a1a" transform="rotate(-89.7 239.37 509.90)">Biofilm</text>
<text x="249.02" y="509.90" font-size="8.0" text-anchor="end" style="font-style:italic;" fill="#1a1a1a" transform="rotate(-89.7 249.02 509.90)">avrA</text>
<text x="258.67" y="509.90" font-size="8.0" text-anchor="end" style="font-style:italic;" fill="#1a1a1a" transform="rotate(-89.7 258.67 509.90)">sitD</text>
<text x="268.33" y="509.90" font-size="8.0" text-anchor="end" style="font-style:italic;" fill="#1a1a1a" transform="rotate(-89.7 268.33 509.90)">sopB</text>
<text x="277.98" y="509.90" font-size="8.0" text-anchor="end" style="font-style:italic;" fill="#1a1a1a" transform="rotate(-89.7 277.98 509.90)">sipD</text>
<text x="287.63" y="509.90" font-size="8.0" text-anchor="end" style="font-style:italic;" fill="#1a1a1a" transform="rotate(-89.7 287.63 509.90)">spiC</text>
<text x="297.29" y="509.90" font-size="8.0" text-anchor="end" style="font-style:italic;" fill="#1a1a1a" transform="rotate(-89.7 297.29 509.90)">hilD</text>
<text x="306.94" y="509.90" font-size="8.0" text-anchor="end" style="font-style:italic;" fill="#1a1a1a" transform="rotate(-89.7 306.94 509.90)">hilC</text>
<text x="316.59" y="509.90" font-size="8.0" text-anchor="end" style="font-style:italic;" fill="#1a1a1a" transform="rotate(-89.7 316.59 509.90)">fliC</text>
<text x="326.25" y="509.90" font-size="8.0" text-anchor="end" style="font-style:italic;" fill="#1a1a1a" transform="rotate(-89.7 326.25 509.90)">sodC1</text>
<text x="335.90" y="509.90" font-size="8.0" text-anchor="end" style="font-style:italic;" fill="#1a1a1a" transform="rotate(-89.7 335.90 509.90)">spvC</text>
<text x="345.55" y="509.90" font-size="8.0" text-anchor="end" style="font-style:italic;" fill="#1a1a1a" transform="rotate(-89.7 345.55 509.90)">ppdD</text>
<text x="0" y="0" font-size="20.5" fill="#000" stroke="#000" stroke-width="0.3" transform="translate(17.90 15.70) scale(1 1.17)">A</text>
<text x="0" y="0" font-size="20.5" fill="#000" stroke="#000" stroke-width="0.3" transform="translate(375.50 15.30) scale(1 1.17)">B</text>
<text x="0" y="0" font-size="21.4" fill="#000" stroke="#000" stroke-width="0.3" transform="translate(21.30 327.20) scale(1 1.04)">C</text>
<text x="496.00" y="306.10" font-size="15.8" text-anchor="start" style="font-weight:bold;" fill="#000">Figure Legends</text>
<path d="M22.50 32.50L22.50 39.50 M22.50 32.50L22.50 32.50 M22.50 39.50L22.50 39.50 M22.50 61.50L22.50 68.50 M22.50 61.50L22.50 61.50 M22.50 68.50L22.50 68.50 M20.50 53.50L20.50 64.50 M20.50 53.50L22.50 53.50 M20.50 64.50L22.50 64.50 M18.50 46.50L18.50 59.50 M18.50 46.50L22.50 46.50 M18.50 59.50L20.50 59.50 M20.50 75.50L20.50 82.50 M20.50 75.50L22.50 75.50 M20.50 82.50L22.50 82.50 M16.50 53.50L16.50 79.50 M16.50 53.50L18.50 53.50 M16.50 79.50L20.50 79.50 M11.50 36.50L11.50 66.50 M11.50 36.50L22.50 36.50 M11.50 66.50L16.50 66.50 M22.50 111.50L22.50 118.50 M22.50 111.50L22.50 111.50 M22.50 118.50L22.50 118.50 M22.50 104.50L22.50 114.50 M22.50 104.50L22.50 104.50 M22.50 114.50L22.50 114.50 M22.50 96.50L22.50 109.50 M22.50 96.50L22.50 96.50 M22.50 109.50L22.50 109.50 M20.50 125.50L20.50 132.50 M20.50 125.50L22.50 125.50 M20.50 132.50L22.50 132.50 M19.50 103.50L19.50 129.50 M19.50 103.50L22.50 103.50 M19.50 129.50L20.50 129.50 M15.50 89.50L15.50 116.50 M15.50 89.50L22.50 89.50 M15.50 116.50L19.50 116.50 M22.50 147.50L22.50 154.50 M22.50 147.50L22.50 147.50 M22.50 154.50L22.50 154.50 M20.50 150.50L20.50 161.50 M20.50 150.50L22.50 150.50 M20.50 161.50L22.50 161.50 M18.50 139.50L18.50 156.50 M18.50 139.50L22.50 139.50 M18.50 156.50L20.50 156.50 M13.50 102.50L13.50 147.50 M13.50 102.50L15.50 102.50 M13.50 147.50L18.50 147.50 M7.50 51.50L7.50 125.50 M7.50 51.50L11.50 51.50 M7.50 125.50L13.50 125.50 M20.50 168.50L20.50 175.50 M20.50 168.50L22.50 168.50 M20.50 175.50L22.50 175.50 M22.50 182.50L22.50 190.50 M22.50 182.50L22.50 182.50 M22.50 190.50L22.50 190.50 M20.50 186.50L20.50 197.50 M20.50 186.50L22.50 186.50 M20.50 197.50L22.50 197.50 M20.50 204.50L20.50 211.50 M20.50 204.50L22.50 204.50 M20.50 211.50L22.50 211.50 M16.50 191.50L16.50 207.50 M16.50 191.50L20.50 191.50 M16.50 207.50L20.50 207.50 M11.50 172.50L11.50 199.50 M11.50 172.50L20.50 172.50 M11.50 199.50L16.50 199.50 M0.50 88.50L0.50 186.50 M0.50 88.50L7.50 88.50 M0.50 186.50L11.50 186.50" stroke="#585858" stroke-width="1.0" fill="none" shape-rendering="geometricPrecision" stroke-linecap="square"/>
<path d="M376.50 32.50L376.50 39.50 M376.50 32.50L376.50 32.50 M376.50 39.50L376.50 39.50 M376.50 61.50L376.50 68.50 M376.50 61.50L376.50 61.50 M376.50 68.50L376.50 68.50 M374.50 53.50L374.50 64.50 M374.50 53.50L376.50 53.50 M374.50 64.50L376.50 64.50 M372.50 46.50L372.50 59.50 M372.50 46.50L376.50 46.50 M372.50 59.50L374.50 59.50 M374.50 75.50L374.50 82.50 M374.50 75.50L376.50 75.50 M374.50 82.50L376.50 82.50 M370.50 53.50L370.50 79.50 M370.50 53.50L372.50 53.50 M370.50 79.50L374.50 79.50 M365.50 36.50L365.50 66.50 M365.50 36.50L376.50 36.50 M365.50 66.50L370.50 66.50 M376.50 111.50L376.50 118.50 M376.50 111.50L376.50 111.50 M376.50 118.50L376.50 118.50 M374.50 104.50L374.50 114.50 M374.50 104.50L376.50 104.50 M374.50 114.50L376.50 114.50 M373.50 96.50L373.50 109.50 M373.50 96.50L376.50 96.50 M373.50 109.50L374.50 109.50 M376.50 139.50L376.50 147.50 M376.50 139.50L376.50 139.50 M376.50 147.50L376.50 147.50 M373.50 132.50L373.50 143.50 M373.50 132.50L376.50 132.50 M373.50 143.50L376.50 143.50 M373.50 125.50L373.50 138.50 M373.50 125.50L376.50 125.50 M373.50 138.50L373.50 138.50 M371.50 103.50L371.50 131.50 M371.50 103.50L373.50 103.50 M371.50 131.50L373.50 131.50 M368.50 89.50L368.50 117.50 M368.50 89.50L376.50 89.50 M368.50 117.50L371.50 117.50 M376.50 161.50L376.50 168.50 M376.50 161.50L376.50 161.50 M376.50 168.50L376.50 168.50 M374.50 164.50L374.50 175.50 M374.50 164.50L376.50 164.50 M374.50 175.50L376.50 175.50 M372.50 154.50L372.50 170.50 M372.50 154.50L376.50 154.50 M372.50 170.50L374.50 170.50 M365.50 103.50L365.50 162.50 M365.50 103.50L368.50 103.50 M365.50 162.50L372.50 162.50 M359.50 51.50L359.50 132.50 M359.50 51.50L365.50 51.50 M359.50 132.50L365.50 132.50 M374.50 182.50L374.50 190.50 M374.50 182.50L376.50 182.50 M374.50 190.50L376.50 190.50 M374.50 197.50L374.50 204.50 M374.50 197.50L376.50 197.50 M374.50 204.50L376.50 204.50 M371.50 200.50L371.50 211.50 M371.50 200.50L374.50 200.50 M371.50 211.50L376.50 211.50 M366.50 186.50L366.50 206.50 M366.50 186.50L374.50 186.50 M366.50 206.50L371.50 206.50 M354.50 92.50L354.50 196.50 M354.50 92.50L359.50 92.50 M354.50 196.50L366.50 196.50" stroke="#585858" stroke-width="1.0" fill="none" shape-rendering="geometricPrecision" stroke-linecap="square"/>
<path d="M33.50 341.50L33.50 347.50 M33.50 341.50L37.50 341.50 M33.50 347.50L37.50 347.50 M33.50 344.50L33.50 354.50 M33.50 344.50L33.50 344.50 M33.50 354.50L37.50 354.50 M33.50 334.50L33.50 349.50 M33.50 334.50L37.50 334.50 M33.50 349.50L33.50 349.50 M35.50 361.50L35.50 368.50 M35.50 361.50L37.50 361.50 M35.50 368.50L37.50 368.50 M32.50 364.50L32.50 375.50 M32.50 364.50L35.50 364.50 M32.50 375.50L37.50 375.50 M27.50 341.50L27.50 370.50 M27.50 341.50L33.50 341.50 M27.50 370.50L32.50 370.50 M37.50 395.50L37.50 402.50 M37.50 395.50L37.50 395.50 M37.50 402.50L37.50 402.50 M37.50 409.50L37.50 416.50 M37.50 409.50L37.50 409.50 M37.50 416.50L37.50 416.50 M34.50 399.50L34.50 412.50 M34.50 399.50L37.50 399.50 M34.50 412.50L37.50 412.50 M34.50 388.50L34.50 405.50 M34.50 388.50L37.50 388.50 M34.50 405.50L34.50 405.50 M33.50 422.50L33.50 429.50 M33.50 422.50L37.50 422.50 M33.50 429.50L37.50 429.50 M32.50 397.50L32.50 426.50 M32.50 397.50L34.50 397.50 M32.50 426.50L33.50 426.50 M31.50 382.50L31.50 411.50 M31.50 382.50L37.50 382.50 M31.50 411.50L32.50 411.50 M33.50 450.50L33.50 456.50 M33.50 450.50L37.50 450.50 M33.50 456.50L37.50 456.50 M33.50 443.50L33.50 453.50 M33.50 443.50L37.50 443.50 M33.50 453.50L33.50 453.50 M31.50 436.50L31.50 448.50 M31.50 436.50L37.50 436.50 M31.50 448.50L33.50 448.50 M27.50 396.50L27.50 442.50 M27.50 396.50L31.50 396.50 M27.50 442.50L31.50 442.50 M23.50 356.50L23.50 419.50 M23.50 356.50L27.50 356.50 M23.50 419.50L27.50 419.50 M34.50 463.50L34.50 470.50 M34.50 463.50L37.50 463.50 M34.50 470.50L37.50 470.50 M35.50 477.50L35.50 484.50 M35.50 477.50L37.50 477.50 M35.50 484.50L37.50 484.50 M33.50 480.50L33.50 491.50 M33.50 480.50L35.50 480.50 M33.50 491.50L37.50 491.50 M33.50 497.50L33.50 504.50 M33.50 497.50L37.50 497.50 M33.50 504.50L37.50 504.50 M29.50 485.50L29.50 501.50 M29.50 485.50L33.50 485.50 M29.50 501.50L33.50 501.50 M26.50 467.50L26.50 493.50 M26.50 467.50L34.50 467.50 M26.50 493.50L29.50 493.50 M16.50 387.50L16.50 480.50 M16.50 387.50L23.50 387.50 M16.50 480.50L26.50 480.50" stroke="#585858" stroke-width="1.0" fill="none" shape-rendering="geometricPrecision" stroke-linecap="square"/>
<path d="M36.50 27.50L36.50 20.50 M36.50 20.50L62.50 20.50 M62.50 20.50L62.50 27.50 M49.50 20.50L49.50 5.50 M49.50 5.50L199.50 5.50 M199.50 5.50L199.50 27.50" stroke="#585858" stroke-width="1.0" fill="none" shape-rendering="geometricPrecision" stroke-linecap="square"/>
<path d="M87.80 27.90L318.20 27.90" stroke="#808080" stroke-width="1.3" fill="none" shape-rendering="geometricPrecision" stroke-linecap="square"/>
<path d="M390.50 27.50L390.50 20.50 M390.50 20.50L416.50 20.50 M416.50 20.50L416.50 27.50 M403.50 20.50L403.50 5.50 M403.50 5.50L566.50 5.50 M566.50 5.50L566.50 27.50" stroke="#585858" stroke-width="1.0" fill="none" shape-rendering="geometricPrecision" stroke-linecap="square"/>
<path d="M441.40 27.80L681.00 27.80" stroke="#808080" stroke-width="1.3" fill="none" shape-rendering="geometricPrecision" stroke-linecap="square"/>
<path d="M43.50 330.50L43.50 322.50 M43.50 322.50L53.50 322.50 M53.50 322.50L53.50 330.50 M48.50 322.50L48.50 308.50 M48.50 308.50L296.50 308.50 M296.50 308.50L296.50 329.50" stroke="#585858" stroke-width="1.0" fill="none" shape-rendering="geometricPrecision" stroke-linecap="square"/>
<path d="M62.80 329.90L342.60 329.90" stroke="#808080" stroke-width="1.3" fill="none" shape-rendering="geometricPrecision" stroke-linecap="square"/>
<defs><linearGradient id="gSens" x1="0" y1="0" x2="0" y2="1"><stop offset="0" stop-color="#FF2200"/><stop offset="0.5" stop-color="#FFA404"/><stop offset="1" stop-color="#0EF80A"/></linearGradient><linearGradient id="gPA" x1="0" y1="0" x2="0" y2="1"><stop offset="0" stop-color="#FF63A8"/><stop offset="1" stop-color="#D9F5A2"/></linearGradient></defs>
<text x="485.60" y="327.90" font-size="8.7" text-anchor="start" style="font-weight:bold;" fill="#000">Sensitivity</text>
<rect x="485.1" y="332.9" width="10.3" height="51.5" fill="url(#gSens)"/>
<path d="M485.10 334.10h2M493.40 334.10h2 M485.10 358.50h2M493.40 358.50h2 M485.10 382.90h2M493.40 382.90h2" stroke="#fff" stroke-opacity="0.85" stroke-width="0.9" fill="none" shape-rendering="geometricPrecision"/>
<text x="497.60" y="338.20" font-size="8.6" text-anchor="start" style="" fill="#1a1a1a">Resistant</text>
<text x="497.60" y="361.90" font-size="8.6" text-anchor="start" style="" fill="#1a1a1a">Intermediate</text>
<text x="497.60" y="385.70" font-size="8.6" text-anchor="start" style="" fill="#1a1a1a">Sensitive</text>
<text x="580.70" y="326.00" font-size="8.7" text-anchor="start" style="font-weight:bold;" fill="#000">Serotype</text>
<defs><linearGradient id="gSer" x1="0" y1="0" x2="0" y2="1"><stop offset="0.0247" stop-color="#BEBEBE"/><stop offset="0.1309" stop-color="#FFFFFF"/><stop offset="0.2370" stop-color="#000000"/><stop offset="0.3432" stop-color="#FF3CFA"/><stop offset="0.4493" stop-color="#00FFFF"/><stop offset="0.5555" stop-color="#A52A2A"/><stop offset="0.6616" stop-color="#FFC0CB"/><stop offset="0.7677" stop-color="#A020F0"/><stop offset="0.8739" stop-color="#FFFF00"/><stop offset="0.9800" stop-color="#0028FF"/></linearGradient></defs>
<rect x="580.9" y="329.7" width="9.5" height="109.10000000000002" fill="url(#gSer)"/>
<path d="M580.90 332.40h2M588.40 332.40h2 M580.90 343.98h2M588.40 343.98h2 M580.90 355.56h2M588.40 355.56h2 M580.90 367.14h2M588.40 367.14h2 M580.90 378.72h2M588.40 378.72h2 M580.90 390.30h2M588.40 390.30h2 M580.90 401.88h2M588.40 401.88h2 M580.90 413.46h2M588.40 413.46h2 M580.90 425.04h2M588.40 425.04h2 M580.90 436.62h2M588.40 436.62h2" stroke="#fff" stroke-opacity="0.85" stroke-width="0.9" fill="none" shape-rendering="geometricPrecision"/>
<text x="592.60" y="335.57" font-size="8.8" text-anchor="start" style="" fill="#1a1a1a">Mbandaka</text>
<text x="592.60" y="347.15" font-size="8.8" text-anchor="start" style="" fill="#1a1a1a">Bovismorbificans</text>
<text x="592.60" y="358.73" font-size="8.8" text-anchor="start" style="" fill="#1a1a1a">Hartford</text>
<text x="592.60" y="370.31" font-size="8.8" text-anchor="start" style="" fill="#1a1a1a">4,(5),12:i:-</text>
<text x="592.60" y="381.89" font-size="8.8" text-anchor="start" style="" fill="#1a1a1a">Typhimurium</text>
<text x="592.60" y="393.47" font-size="8.8" text-anchor="start" style="" fill="#1a1a1a">4,(5),12:b:-</text>
<text x="592.60" y="405.05" font-size="8.8" text-anchor="start" style="" fill="#1a1a1a">Thompson</text>
<text x="592.60" y="416.63" font-size="8.8" text-anchor="start" style="" fill="#1a1a1a">Agbeni</text>
<text x="592.60" y="428.21" font-size="8.8" text-anchor="start" style="" fill="#1a1a1a">Enteritidis</text>
<text x="592.60" y="439.79" font-size="8.8" text-anchor="start" style="" fill="#1a1a1a">Anatum</text>
<text x="580.10" y="459.90" font-size="8.5" text-anchor="start" style="font-weight:bold;" fill="#000">Samples</text>
<defs><linearGradient id="gSmp" x1="0" y1="0" x2="0" y2="1"><stop offset="0.0385" stop-color="#90EE90"/><stop offset="0.2706" stop-color="#ADD8E6"/><stop offset="0.5027" stop-color="#006400"/><stop offset="0.7348" stop-color="#00008B"/><stop offset="0.9669" stop-color="#8B0A00"/></linearGradient></defs>
<rect x="580.0" y="464.5" width="10.2" height="52.0" fill="url(#gSmp)"/>
<path d="M580.00 466.50h2M588.20 466.50h2 M580.00 478.57h2M588.20 478.57h2 M580.00 490.64h2M588.20 490.64h2 M580.00 502.71h2M588.20 502.71h2 M580.00 514.78h2M588.20 514.78h2" stroke="#fff" stroke-opacity="0.85" stroke-width="0.9" fill="none" shape-rendering="geometricPrecision"/>
<text x="592.40" y="469.60" font-size="8.6" text-anchor="start" style="" fill="#1a1a1a">Colon</text>
<text x="592.40" y="481.67" font-size="8.6" text-anchor="start" style="" fill="#1a1a1a">Feces</text>
<text x="592.40" y="493.74" font-size="8.6" text-anchor="start" style="" fill="#1a1a1a">Kidney</text>
<text x="592.40" y="505.81" font-size="8.6" text-anchor="start" style="" fill="#1a1a1a">Liver</text>
<text x="592.40" y="517.88" font-size="8.6" text-anchor="start" style="" fill="#1a1a1a">Small intestine</text>
<text x="485.50" y="455.50" font-size="10.1" text-anchor="start" style="font-weight:bold;" fill="#000">Legend</text>
<rect x="485.1" y="461.0" width="11.6" height="59.2" fill="url(#gPA)"/>
<path d="M485.10 462.90h2M494.70 462.90h2 M485.10 518.30h2M494.70 518.30h2" stroke="#fff" stroke-opacity="0.85" stroke-width="0.9" fill="none" shape-rendering="geometricPrecision"/>
<text x="499.50" y="466.40" font-size="9.8" text-anchor="start" style="" fill="#1a1a1a">Present</text>
<text x="499.50" y="522.00" font-size="9.8" text-anchor="start" style="" fill="#1a1a1a">Absent</text>
</svg>
</body></html>
